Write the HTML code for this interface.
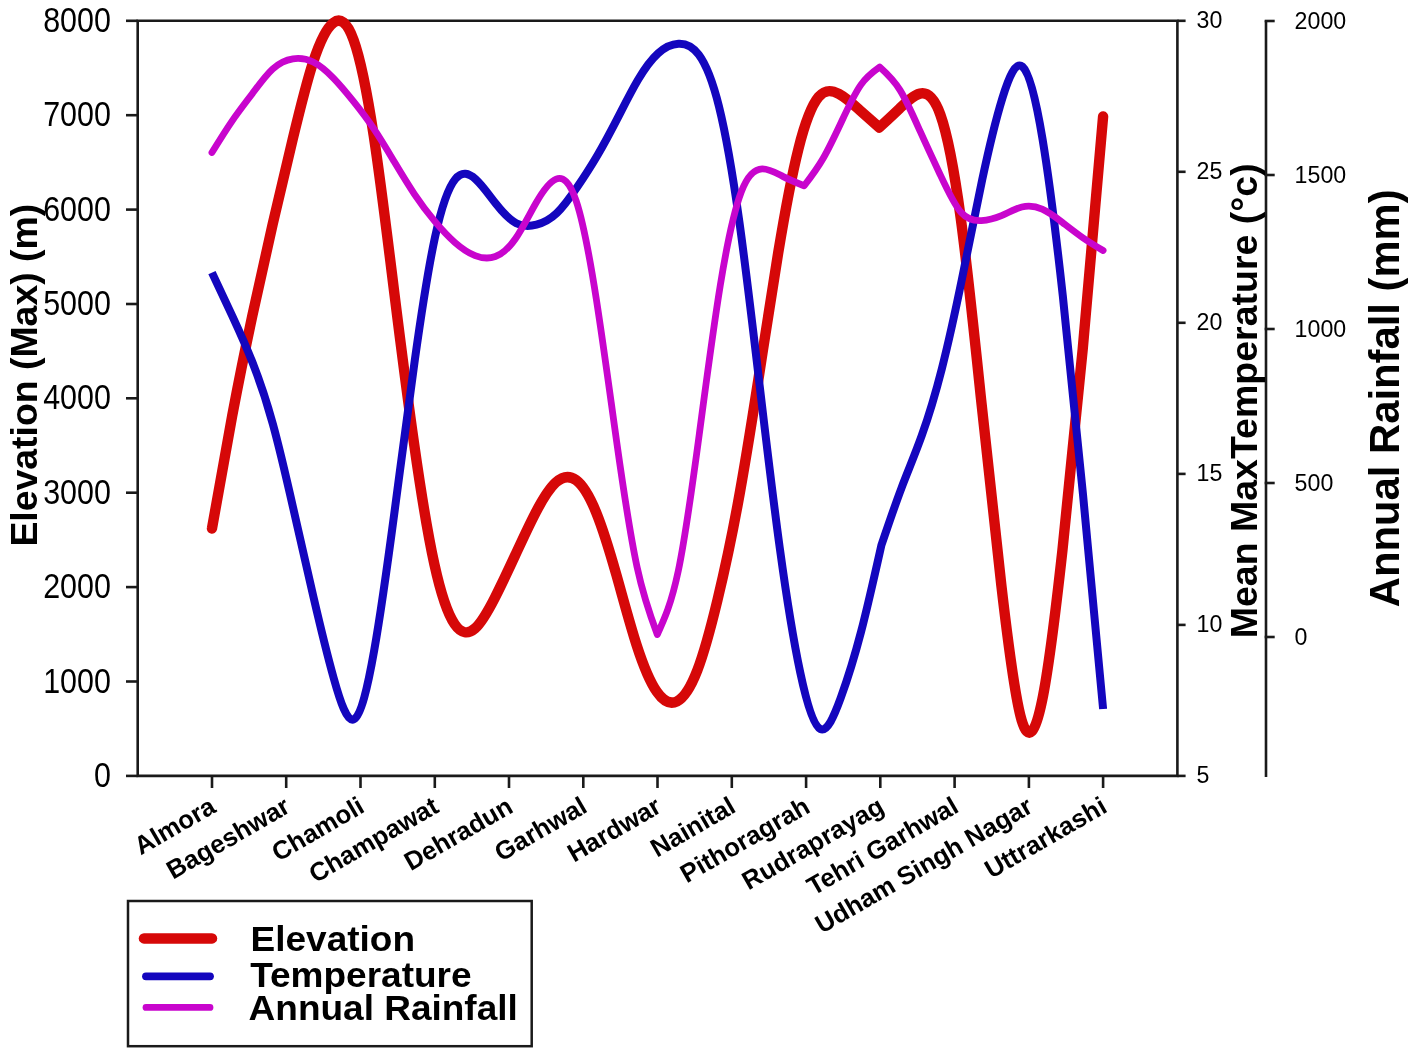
<!DOCTYPE html><html><head><meta charset="utf-8"><style>html,body{margin:0;padding:0;background:#fff;width:1416px;height:1055px;overflow:hidden}svg{display:block;filter:blur(0.45px)}text{font-family:"Liberation Sans", sans-serif}</style></head><body>
<svg width="1416" height="1055" viewBox="0 0 1416 1055">
<rect width="1416" height="1055" fill="#fff"/>
<g stroke="#1a1a1a" stroke-width="2.6" fill="none" stroke-linecap="butt">
<path d="M137.7,20.8 H1177.4 V775.9 H137.7 Z"/>
<path d="M126,775.9 H137.7"/>
<path d="M126,681.5 H137.7"/>
<path d="M126,587.1 H137.7"/>
<path d="M126,492.7 H137.7"/>
<path d="M126,398.3 H137.7"/>
<path d="M126,304.0 H137.7"/>
<path d="M126,209.6 H137.7"/>
<path d="M126,115.2 H137.7"/>
<path d="M126,20.8 H137.7"/>
<path d="M212.0,775.9 V788"/>
<path d="M286.2,775.9 V788"/>
<path d="M360.5,775.9 V788"/>
<path d="M434.8,775.9 V788"/>
<path d="M509.0,775.9 V788"/>
<path d="M583.3,775.9 V788"/>
<path d="M657.5,775.9 V788"/>
<path d="M731.8,775.9 V788"/>
<path d="M806.1,775.9 V788"/>
<path d="M880.3,775.9 V788"/>
<path d="M954.6,775.9 V788"/>
<path d="M1028.9,775.9 V788"/>
<path d="M1103.1,775.9 V788"/>
<path d="M1177.4,775.9 H1185.6"/>
<path d="M1177.4,624.9 H1185.6"/>
<path d="M1177.4,473.9 H1185.6"/>
<path d="M1177.4,322.8 H1185.6"/>
<path d="M1177.4,171.8 H1185.6"/>
<path d="M1177.4,20.8 H1185.6"/>
<path d="M1266.0,20.6 V777"/>
<path d="M1264.7,637.0 H1274.7"/>
<path d="M1264.7,483.0 H1274.7"/>
<path d="M1264.7,329.0 H1274.7"/>
<path d="M1264.7,175.0 H1274.7"/>
<path d="M1264.7,21.0 H1274.7"/>
</g>
<g font-size="30.45" fill="#000" text-anchor="end">
<text transform="translate(110.9,787.04) scale(1,1.150)">0</text>
<text transform="translate(110.9,692.65) scale(1,1.150)">1000</text>
<text transform="translate(110.9,598.26) scale(1,1.150)">2000</text>
<text transform="translate(110.9,503.87) scale(1,1.150)">3000</text>
<text transform="translate(110.9,409.49) scale(1,1.150)">4000</text>
<text transform="translate(110.9,315.10) scale(1,1.150)">5000</text>
<text transform="translate(110.9,220.71) scale(1,1.150)">6000</text>
<text transform="translate(110.9,126.32) scale(1,1.150)">7000</text>
<text transform="translate(110.9,31.94) scale(1,1.150)">8000</text>
</g>
<g font-size="23.20" fill="#000">
<text transform="translate(1196.5,783.20) scale(1,1.035)">5</text>
<text transform="translate(1196.5,632.18) scale(1,1.035)">10</text>
<text transform="translate(1196.5,481.16) scale(1,1.035)">15</text>
<text transform="translate(1196.5,330.14) scale(1,1.035)">20</text>
<text transform="translate(1196.5,179.12) scale(1,1.035)">25</text>
<text transform="translate(1196.5,28.10) scale(1,1.035)">30</text>
<text transform="translate(1294.6,644.80) scale(1,1.035)">0</text>
<text transform="translate(1294.6,490.80) scale(1,1.035)">500</text>
<text transform="translate(1294.6,336.80) scale(1,1.035)">1000</text>
<text transform="translate(1294.6,182.80) scale(1,1.035)">1500</text>
<text transform="translate(1294.6,28.80) scale(1,1.035)">2000</text>
</g>
<text font-weight="bold" font-size="37.0" text-anchor="middle" transform="translate(36.6,375.2) rotate(-90) scale(1.011,1)">Elevation (Max) (m)</text>
<text font-weight="bold" font-size="37.0" text-anchor="middle" transform="translate(1257.0,400.8) rotate(-90) scale(1.014,1)">Mean MaxTemperature (°c)</text>
<text font-weight="bold" font-size="43.0" text-anchor="middle" transform="translate(1398.8,398.3) rotate(-90) scale(0.972,1)">Annual Rainfall (mm)</text>
<g font-weight="bold" font-size="25.7" fill="#000" text-anchor="end">
<text transform="translate(217.5,811.3) rotate(-30.0)">Almora</text>
<text transform="translate(291.7,811.3) rotate(-30.0)">Bageshwar</text>
<text transform="translate(366.0,811.3) rotate(-30.0)">Chamoli</text>
<text transform="translate(440.3,811.3) rotate(-30.0)">Champawat</text>
<text transform="translate(514.5,811.3) rotate(-30.0)">Dehradun</text>
<text transform="translate(588.8,811.3) rotate(-30.0)">Garhwal</text>
<text transform="translate(663.0,811.3) rotate(-30.0)">Hardwar</text>
<text transform="translate(737.3,811.3) rotate(-30.0)">Nainital</text>
<text transform="translate(811.6,811.3) rotate(-30.0)">Pithoragrah</text>
<text transform="translate(885.8,811.3) rotate(-30.0)">Rudraprayag</text>
<text transform="translate(960.1,811.3) rotate(-30.0)">Tehri Garhwal</text>
<text transform="translate(1034.4,811.3) rotate(-30.0)">Udham Singh Nagar</text>
<text transform="translate(1108.6,811.3) rotate(-30.0)">Uttrarkashi</text>
</g>
<path d="M211.96,528.50 C218.70,490.08 225.44,451.66 232.18,415.88 C238.92,380.11 245.66,346.99 252.40,315.36 C259.15,283.74 265.89,253.62 272.63,224.34 C279.37,195.06 286.11,166.62 292.85,138.60 C299.59,110.58 306.33,82.99 313.07,62.31 C319.81,41.64 326.55,27.88 333.29,22.79 C340.04,17.70 346.78,21.28 353.52,39.70 C360.26,58.12 367.00,91.37 373.74,135.80 C380.48,180.22 387.22,235.82 393.96,290.05 C400.70,344.28 407.44,397.15 414.18,444.54 C420.93,491.93 427.67,533.85 434.41,564.46 C441.15,595.06 447.89,614.34 454.63,624.18 C461.37,634.02 468.11,634.40 474.85,628.55 C481.59,622.69 488.33,610.58 495.07,597.32 C501.81,584.05 508.56,569.62 515.30,555.05 C522.04,540.48 528.78,525.76 535.52,512.82 C542.26,499.88 549.00,488.73 555.74,482.54 C562.48,476.36 569.22,475.15 575.96,480.03 C582.70,484.91 589.45,495.88 596.19,512.44 C602.93,528.99 609.67,551.12 616.41,574.93 C623.15,598.74 629.89,624.22 636.63,645.07 C643.37,665.91 650.11,682.12 656.85,691.82 C663.59,701.52 670.33,704.71 677.08,701.30 C683.82,697.90 690.56,687.89 697.30,670.39 C704.04,652.89 710.78,627.89 717.52,599.88 C724.26,571.86 731.00,540.82 737.74,504.27 C744.48,467.72 751.22,425.66 757.97,382.12 C764.71,338.59 771.45,293.58 778.19,252.86 C784.93,212.15 791.67,175.74 798.41,148.94 C805.15,122.14 811.89,104.95 818.63,96.98 C825.37,89.02 832.11,90.29 838.86,93.92 C845.60,97.55 852.34,103.56 859.08,109.55 C865.82,115.54 872.56,121.52 879.30,127.50 L879.30,127.50 C886.08,121.22 892.86,114.95 899.65,108.43 C906.43,101.92 913.21,95.16 919.99,93.62 C926.77,92.09 933.55,95.76 940.34,114.63 C947.12,133.49 953.90,167.55 960.68,217.72 C967.46,267.89 974.25,334.17 981.03,398.92 C987.81,463.67 994.59,526.89 1001.37,585.51 C1008.15,644.13 1014.94,698.14 1021.72,720.49 C1028.50,742.84 1035.28,733.52 1042.06,700.81 C1048.85,668.10 1055.63,612.00 1062.41,550.48 C1069.19,488.95 1075.97,422.01 1082.75,348.77 C1089.54,275.54 1096.32,196.02 1103.10,116.50" fill="none" stroke="#d60808" stroke-width="10.4" stroke-linecap="round" stroke-linejoin="round"/>
<path d="M211.96,272.60 C218.72,286.94 225.48,301.28 232.24,315.88 C239.00,330.48 245.77,345.34 252.53,362.56 C259.29,379.79 266.05,399.38 272.81,423.89 C279.57,448.40 286.33,477.84 293.09,507.62 C299.85,537.40 306.61,567.52 313.38,596.60 C320.14,625.68 326.90,653.73 333.66,677.97 C340.42,702.20 347.18,722.62 353.94,719.20 C360.70,715.78 367.46,688.53 374.22,650.27 C380.99,612.02 387.75,562.76 394.51,511.86 C401.27,460.95 408.03,408.39 414.79,360.18 C421.55,311.97 428.31,268.10 435.07,236.88 C441.83,205.67 448.60,187.11 455.36,178.99 C462.12,170.87 468.88,173.18 475.64,179.27 C482.40,185.36 489.16,195.23 495.92,203.81 C502.68,212.39 509.44,219.68 516.21,223.20 C522.97,226.73 529.73,226.48 536.49,224.69 C543.25,222.90 550.01,219.57 556.77,213.15 C563.53,206.73 570.29,197.22 577.05,187.28 C583.82,177.35 590.58,167.00 597.34,155.48 C604.10,143.96 610.86,131.28 617.62,118.13 C624.38,104.98 631.14,91.35 637.90,79.94 C644.66,68.52 651.43,59.31 658.19,53.20 C664.95,47.09 671.71,44.09 678.47,43.72 C685.23,43.35 691.99,45.62 698.75,54.63 C705.51,63.65 712.27,79.41 719.04,106.74 C725.80,134.06 732.56,172.94 739.32,221.37 C746.08,269.79 752.84,327.76 759.60,385.15 C766.36,442.55 773.12,499.37 779.88,548.79 C786.65,598.22 793.41,640.25 800.17,672.19 C806.93,704.13 813.69,725.97 820.45,729.07 C827.21,732.17 833.97,716.51 840.73,697.91 C847.49,679.31 854.26,657.76 861.02,631.87 C867.78,605.98 874.54,575.74 881.30,545.50 L881.30,545.50 C888.02,525.64 894.74,505.79 901.46,488.06 C908.18,470.33 914.91,454.73 921.63,435.97 C928.35,417.21 935.07,395.29 941.79,368.93 C948.51,342.58 955.23,311.79 961.95,279.03 C968.68,246.28 975.40,211.56 982.12,180.08 C988.84,148.60 995.56,120.37 1002.28,98.47 C1009.00,76.58 1015.72,61.03 1022.45,66.61 C1029.17,72.19 1035.89,98.91 1042.61,139.48 C1049.33,180.05 1056.05,234.48 1062.77,295.44 C1069.49,356.39 1076.22,423.88 1082.94,493.89 C1089.66,563.91 1096.38,636.45 1103.10,709.00" fill="none" stroke="#1406be" stroke-width="8.0" stroke-linecap="butt" stroke-linejoin="round"/>
<path d="M211.96,152.50 C218.71,141.56 225.46,130.62 232.20,120.83 C238.95,111.05 245.70,102.43 252.45,93.45 C259.19,84.47 265.94,75.13 272.69,68.98 C279.44,62.83 286.18,59.86 292.93,58.84 C299.68,57.82 306.43,58.73 313.17,62.08 C319.92,65.42 326.67,71.20 333.42,78.15 C340.16,85.11 346.91,93.25 353.66,101.69 C360.41,110.12 367.15,118.86 373.90,128.89 C380.65,138.91 387.40,150.23 394.14,161.48 C400.89,172.74 407.64,183.95 414.39,194.02 C421.13,204.09 427.88,213.04 434.63,221.15 C441.38,229.25 448.13,236.53 454.87,242.45 C461.62,248.37 468.37,252.94 475.12,255.59 C481.86,258.25 488.61,259.01 495.36,256.50 C502.11,253.99 508.85,248.22 515.60,238.47 C522.35,228.71 529.10,214.96 535.84,203.20 C542.59,191.44 549.34,181.67 556.09,179.08 C562.83,176.50 569.58,181.10 576.33,201.32 C583.08,221.54 589.82,257.39 596.57,300.72 C603.32,344.05 610.07,394.85 616.81,442.72 C623.56,490.58 630.31,535.50 637.06,566.97 C643.80,598.45 650.55,616.47 657.30,634.50 L657.30,634.50 C664.30,619.27 671.29,604.05 678.29,570.90 C685.28,537.74 692.28,486.67 699.27,434.33 C706.27,381.99 713.26,328.39 720.26,285.50 C727.25,242.61 734.25,210.44 741.24,192.06 C748.24,173.69 755.23,169.12 762.23,168.96 C769.22,168.81 776.22,173.06 783.21,176.60 C790.21,180.15 797.20,182.97 804.20,185.80 L804.20,185.80 C810.49,177.59 816.78,169.37 823.08,158.53 C829.37,147.68 835.66,134.21 841.95,120.74 C848.24,107.27 854.53,93.81 860.83,84.86 C867.12,75.90 873.41,71.45 879.70,67.00 L879.70,67.00 C886.47,73.10 893.24,79.21 900.01,90.08 C906.78,100.96 913.55,116.61 920.32,131.65 C927.09,146.70 933.86,161.15 940.63,175.62 C947.40,190.10 954.17,204.59 960.94,212.31 C967.71,220.02 974.48,220.96 981.25,220.59 C988.02,220.23 994.78,218.56 1001.55,215.69 C1008.32,212.81 1015.09,208.71 1021.86,207.06 C1028.63,205.40 1035.40,206.19 1042.17,209.15 C1048.94,212.10 1055.71,217.23 1062.48,222.44 C1069.25,227.66 1076.02,232.98 1082.79,237.67 C1089.56,242.36 1096.33,246.43 1103.10,250.50" fill="none" stroke="#c805cd" stroke-width="6.8" stroke-linecap="round" stroke-linejoin="round"/>
<rect x="128" y="901" width="403.7" height="145.2" fill="none" stroke="#1a1a1a" stroke-width="2.5"/>
<path d="M144,938.4 H212" stroke="#d60808" stroke-width="10.5" stroke-linecap="round"/>
<path d="M146,976.3 H210" stroke="#1406be" stroke-width="7.8" stroke-linecap="round"/>
<path d="M146,1007.4 H210" stroke="#c805cd" stroke-width="6.8" stroke-linecap="round"/>
<g font-weight="bold" font-size="37.0" fill="#000">
<text transform="translate(250.6,950.7) scale(1,0.945)">Elevation</text>
<text transform="translate(250.2,986.9) scale(1,0.945)">Temperature</text>
<text transform="translate(248.6,1019.7) scale(1,0.945)">Annual Rainfall</text>
</g>
</svg></body></html>
